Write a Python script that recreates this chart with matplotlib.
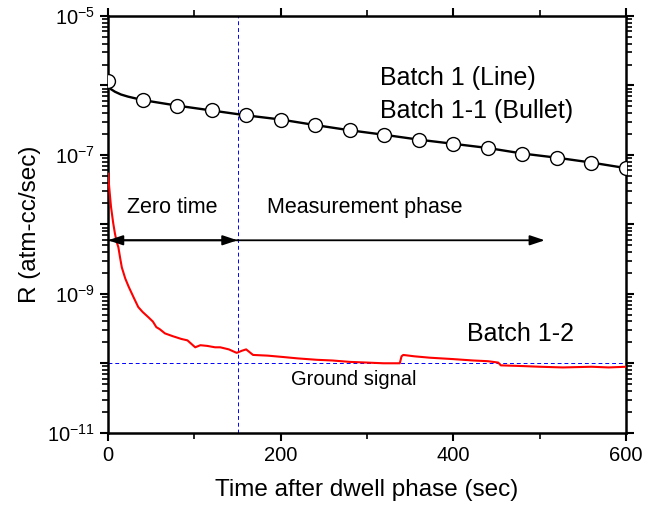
import numpy as np
import matplotlib.pyplot as plt
from matplotlib.ticker import FixedLocator, FuncFormatter, LogLocator, MultipleLocator

plt.rcParams['font.family'] = ['Liberation Sans', 'DejaVu Sans']
plt.rcParams['mathtext.fontset'] = 'custom'
plt.rcParams['mathtext.rm'] = 'Liberation Sans'
plt.rcParams['mathtext.default'] = 'regular'

# Batch 1 (line) as log10(R)
batch1_t = [0, 3, 8, 15, 23, 40, 80, 120, 160, 200, 240, 280, 320, 360, 400,
            440, 480, 520, 560, 600]
batch1_log = [-5.995, -6.05, -6.09, -6.13, -6.16, -6.21, -6.29, -6.36, -6.43,
              -6.49, -6.57, -6.645, -6.71, -6.78, -6.84, -6.90, -6.98, -7.04,
              -7.11, -7.19]

# Batch 1-1 (bullets)
bullet_t = [0, 40, 80, 120, 160, 200, 240, 280, 320, 360, 400, 440, 480, 520, 560, 600]
bullet_log = [-5.93, -6.21, -6.29, -6.36, -6.43, -6.49, -6.57, -6.645, -6.71,
              -6.78, -6.84, -6.90, -6.98, -7.04, -7.11, -7.19]

# Batch 1-2 (red trace)
batch12_t = [0, 2, 3.5, 6, 8, 10, 12, 14, 16, 20, 24, 30, 35, 40, 47, 52, 56, 60,
             66, 75, 85, 92, 101, 107, 115, 124, 130, 140, 149, 155, 160, 164,
             168, 185, 203, 220, 242, 260, 280, 300, 319, 338, 340, 342, 355,
             373, 400, 423, 440, 452, 455, 480, 500, 527, 560, 580, 600]
batch12_log = [-7.27, -7.55, -7.75, -7.98, -8.13, -8.25, -8.33, -8.48, -8.62,
               -8.78, -8.90, -9.06, -9.19, -9.26, -9.34, -9.40, -9.48, -9.51,
               -9.57, -9.61, -9.65, -9.67, -9.77, -9.74, -9.75, -9.77, -9.77,
               -9.80, -9.85, -9.82, -9.80, -9.84, -9.88, -9.89, -9.91, -9.93,
               -9.95, -9.96, -9.98, -9.99, -10.00, -10.00, -9.90, -9.88, -9.90,
               -9.92, -9.94, -9.96, -9.97, -9.99, -10.03, -10.04, -10.05, -10.06,
               -10.05, -10.06, -10.05]

zero_time_end = 150
measure_end = 506
ground_level = 1e-10
arrow_level = 5.9e-9

fig = plt.figure(figsize=(6.55, 5.07), dpi=100)
ax = fig.add_axes([0.1649, 0.1465, 0.7908, 0.8219])

ax.plot(batch1_t, 10 ** np.array(batch1_log), color="black", linewidth=1.7, zorder=3)
ax.plot(bullet_t, 10 ** np.array(bullet_log), linestyle="none", marker="o",
        markersize=10, markerfacecolor="white", markeredgecolor="black",
        markeredgewidth=1.0, zorder=4)
ax.plot(batch12_t, 10 ** np.array(batch12_log), color="red", linewidth=1.5, zorder=3)

# Reference lines
ax.axvline(zero_time_end, color="blue", linestyle=(0, (4, 3)), linewidth=0.7, zorder=1)
ax.axhline(ground_level, color="blue", linestyle=(0, (4, 3)), linewidth=0.7, zorder=1)

# Phase arrows
arrow_kw = dict(arrowstyle="-|>,head_length=0.9,head_width=0.3", color="black",
                linewidth=1.3, shrinkA=0, shrinkB=0)
ax.annotate("", xy=(0, arrow_level), xytext=(zero_time_end, arrow_level), arrowprops=arrow_kw)
ax.annotate("", xy=(zero_time_end, arrow_level), xytext=(0, arrow_level), arrowprops=arrow_kw)
ax.annotate("", xy=(measure_end, arrow_level), xytext=(zero_time_end, arrow_level), arrowprops=arrow_kw)

ax.text(74, 1.76e-8, "Zero time", fontsize=15.5, ha="center", va="center")
ax.text(184, 1.76e-8, "Measurement phase", fontsize=15.5, ha="left", va="center")
ax.text(315, 1.28e-6, "Batch 1 (Line)", fontsize=18, ha="left", va="center")
ax.text(315, 4.27e-7, "Batch 1-1 (Bullet)", fontsize=18, ha="left", va="center")
ax.text(416, 2.68e-10, "Batch 1-2", fontsize=18, ha="left", va="center")
ax.text(212, 5.8e-11, "Ground signal", fontsize=14.5, ha="left", va="center")

ax.set_yscale("log")
ax.set_xlim(0, 600)
ax.set_ylim(1e-11, 1e-5)

ax.xaxis.set_major_locator(FixedLocator([0, 200, 400, 600]))
ax.xaxis.set_minor_locator(MultipleLocator(100))
ax.yaxis.set_major_locator(FixedLocator([10.0 ** e for e in range(-11, -4)]))
ax.yaxis.set_minor_locator(LogLocator(base=10, subs=np.arange(2, 10), numticks=20))


def odd_decades(v, pos):
    e = int(round(np.log10(v)))
    return f"$10^{{{e}}}$" if e % 2 else ""


ax.yaxis.set_major_formatter(FuncFormatter(odd_decades))
ax.yaxis.set_minor_formatter(FuncFormatter(lambda v, p: ""))

ax.tick_params(which="both", direction="out", top=True, right=True, labelsize=14.5)
ax.tick_params(which="major", length=6, width=1.5)
ax.tick_params(which="minor", length=4, width=1.2)
ax.tick_params(axis="x", which="both", top=True, labeltop=False)
ax.tick_params(axis="y", which="both", right=True, labelright=False)

for sp in ax.spines.values():
    sp.set_linewidth(1.8)

ax.set_xlabel("Time after dwell phase (sec)", fontsize=17.5, labelpad=10)
ax.set_ylabel("R (atm-cc/sec)", fontsize=17.5, labelpad=4)

fig.savefig("out.png", dpi=100)
